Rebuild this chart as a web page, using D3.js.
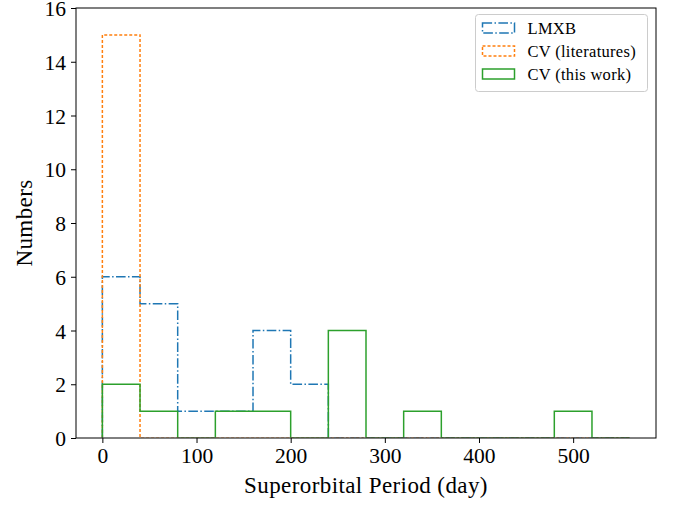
<!DOCTYPE html>
<html>
<head>
<meta charset="utf-8">
<script src="https://cdn.jsdelivr.net/npm/d3@7"></script>
<style>
  body { margin: 0; background: #fff; }
  text { font-family: "Liberation Serif", "DejaVu Serif", serif; fill: #000; }
</style>
</head>
<body>
<svg id="chart" width="675" height="506"></svg>
<script>
// histogram bins (day) and counts per bin
const binEdges = [0, 40, 80, 120, 160, 200, 240, 280, 320, 360, 400, 440, 480, 520, 560];
const lmxb   = [6, 5, 1, 1, 4, 2, 0, 0, 0, 0, 0, 0, 0, 0];
const cvLit  = [15, 0, 0, 0, 0, 0, 0, 0, 0, 0, 0, 0, 0, 0];
const cvThis = [2, 1, 0, 1, 1, 0, 4, 0, 1, 0, 0, 0, 1, 0];
const xTicks = [0, 100, 200, 300, 400, 500];
const yTicks = [0, 2, 4, 6, 8, 10, 12, 14, 16];

const series = [
  { name: "LMXB", counts: lmxb, color: "#1f77b4", dash: "9.6,2.4,1.5,2.4" },
  { name: "CV (literatures)", counts: cvLit, color: "#ff7f0e", dash: "3,2" },
  { name: "CV (this work)", counts: cvThis, color: "#2ca02c", dash: null }
];

var svg = d3.select("#chart");
const mLeft = 76, mRight = 656, mTop = 8, mBottom = 438;

// 5% margin like matplotlib
const span = binEdges[binEdges.length - 1] - binEdges[0];
const x = d3.scaleLinear()
  .domain([binEdges[0] - span * 0.05, binEdges[binEdges.length - 1] + span * 0.05])
  .range([mLeft, mRight]);
const y = d3.scaleLinear().domain([0, 16]).range([mBottom, mTop]);

// step outline for a histogram
function stepPoints(counts) {
  const pts = [[binEdges[0], 0]];
  counts.forEach((c, i) => {
    pts.push([binEdges[i], c]);
    pts.push([binEdges[i + 1], c]);
  });
  pts.push([binEdges[binEdges.length - 1], 0]);
  return pts;
}

const line = d3.line().x(d => x(d[0])).y(d => y(d[1]));

// clip so zero bins hide under the bottom spine
svg.append("defs").append("clipPath").attr("id", "plotclip")
  .append("rect")
  .attr("x", mLeft).attr("y", mTop)
  .attr("width", mRight - mLeft).attr("height", mBottom - mTop - 0.6);

svg.append("g")
  .attr("clip-path", "url(#plotclip)")
  .selectAll("path")
  .data(series)
  .join("path")
  .attr("d", d => line(stepPoints(d.counts)))
  .attr("fill", "none")
  .attr("stroke", d => d.color)
  .attr("stroke-width", 1.5)
  .attr("stroke-dasharray", d => d.dash);

// axes
const xAxis = svg.append("g")
  .attr("transform", `translate(0,${mBottom})`)
  .call(d3.axisBottom(x).tickValues(xTicks).tickSize(5).tickPadding(5).tickSizeOuter(0));
const yAxis = svg.append("g")
  .attr("transform", `translate(${mLeft},0)`)
  .call(d3.axisLeft(y).tickValues(yTicks).tickSize(5).tickPadding(5).tickSizeOuter(0));
[xAxis, yAxis].forEach(g => {
  g.select(".domain").remove();
  g.selectAll("line").attr("stroke", "#000").attr("stroke-width", 1);
  g.selectAll("text").style("font-family", "Liberation Serif").style("font-size", "21.5px");
});
yAxis.selectAll("text").attr("dy", "0.35em");

// frame
svg.append("rect")
  .attr("x", mLeft).attr("y", mTop)
  .attr("width", mRight - mLeft).attr("height", mBottom - mTop)
  .attr("fill", "none").attr("stroke", "#000").attr("stroke-width", 1);

// axis labels
svg.append("text")
  .attr("x", (mLeft + mRight) / 2).attr("y", 493)
  .attr("text-anchor", "middle")
  .style("font-size", "23px")
  .style("letter-spacing", "0.4px")
  .text("Superorbital Period (day)");
svg.append("text")
  .attr("transform", `translate(32,${(mTop + mBottom) / 2}) rotate(-90)`)
  .attr("text-anchor", "middle")
  .style("font-size", "23px")
  .style("letter-spacing", "0.4px")
  .text("Numbers");

// legend
const lg = svg.append("g").attr("transform", "translate(475.5,14.5)");
lg.append("rect")
  .attr("width", 172).attr("height", 77).attr("rx", 3)
  .attr("fill", "#fff").attr("fill-opacity", 0.8)
  .attr("stroke", "#ccc").attr("stroke-width", 1);
const item = lg.selectAll("g.item")
  .data(series)
  .join("g")
  .attr("class", "item")
  .attr("transform", (d, i) => `translate(7,${8.5 + i * 23})`);
item.append("rect")
  .attr("width", 32).attr("height", 10)
  .attr("fill", "none")
  .attr("stroke", d => d.color)
  .attr("stroke-width", 1.5)
  .attr("stroke-dasharray", d => d.dash);
item.append("text")
  .attr("x", 45).attr("y", 10.5)
  .style("font-size", "16.5px")
  .style("letter-spacing", "0.3px")
  .text(d => d.name);
</script>
</body>
</html>
